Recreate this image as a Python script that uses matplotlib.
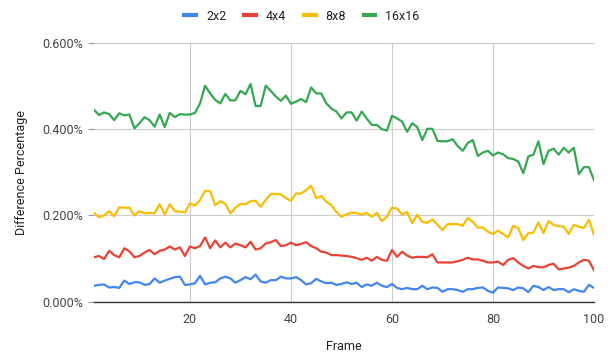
import numpy as np
import matplotlib
matplotlib.use("Agg")
import matplotlib.pyplot as plt
from matplotlib.ticker import PercentFormatter

plt.rcParams['font.family'] = ['Roboto', 'DejaVu Sans']

# frame numbers 1..100
frames = list(range(1, 101))

# difference percentage per block size (values in %)
diff_2x2 = [0.037, 0.039, 0.040, 0.033, 0.034, 0.032, 0.049, 0.041, 0.045, 0.045,
            0.039, 0.041, 0.054, 0.044, 0.049, 0.053, 0.057, 0.058, 0.039, 0.040,
            0.043, 0.060, 0.040, 0.044, 0.045, 0.054, 0.058, 0.054, 0.044, 0.050,
            0.057, 0.052, 0.063, 0.047, 0.044, 0.050, 0.050, 0.058, 0.054, 0.054,
            0.057, 0.050, 0.040, 0.043, 0.053, 0.047, 0.043, 0.044, 0.039, 0.041,
            0.045, 0.041, 0.044, 0.034, 0.040, 0.037, 0.044, 0.037, 0.034, 0.041,
            0.032, 0.029, 0.032, 0.029, 0.029, 0.037, 0.029, 0.033, 0.032, 0.023,
            0.029, 0.029, 0.027, 0.023, 0.029, 0.029, 0.032, 0.033, 0.025, 0.021,
            0.033, 0.032, 0.031, 0.027, 0.033, 0.031, 0.022, 0.037, 0.034, 0.027,
            0.034, 0.027, 0.029, 0.029, 0.022, 0.029, 0.025, 0.023, 0.039, 0.032]

diff_4x4 = [0.103, 0.106, 0.099, 0.118, 0.108, 0.103, 0.124, 0.117, 0.103, 0.106,
            0.114, 0.120, 0.110, 0.118, 0.121, 0.128, 0.121, 0.126, 0.106, 0.128,
            0.124, 0.129, 0.149, 0.124, 0.142, 0.126, 0.137, 0.126, 0.135, 0.131,
            0.126, 0.139, 0.121, 0.124, 0.135, 0.138, 0.143, 0.129, 0.131, 0.137,
            0.131, 0.134, 0.138, 0.129, 0.124, 0.116, 0.114, 0.108, 0.108, 0.107,
            0.106, 0.104, 0.101, 0.097, 0.102, 0.095, 0.104, 0.097, 0.095, 0.120,
            0.104, 0.116, 0.107, 0.102, 0.104, 0.104, 0.103, 0.110, 0.091, 0.091,
            0.091, 0.091, 0.094, 0.097, 0.102, 0.098, 0.098, 0.095, 0.091, 0.091,
            0.093, 0.085, 0.097, 0.101, 0.091, 0.083, 0.077, 0.083, 0.080, 0.080,
            0.085, 0.088, 0.075, 0.077, 0.079, 0.083, 0.091, 0.097, 0.095, 0.073]

diff_8x8 = [0.206, 0.196, 0.200, 0.210, 0.198, 0.219, 0.218, 0.218, 0.200, 0.210,
            0.205, 0.206, 0.205, 0.226, 0.202, 0.226, 0.210, 0.209, 0.207, 0.228,
            0.223, 0.236, 0.257, 0.256, 0.224, 0.233, 0.227, 0.205, 0.218, 0.227,
            0.226, 0.233, 0.234, 0.220, 0.236, 0.250, 0.250, 0.249, 0.240, 0.234,
            0.251, 0.251, 0.259, 0.269, 0.240, 0.245, 0.232, 0.224, 0.208, 0.197,
            0.203, 0.206, 0.206, 0.202, 0.206, 0.197, 0.206, 0.187, 0.197, 0.218,
            0.216, 0.202, 0.208, 0.182, 0.202, 0.185, 0.183, 0.191, 0.179, 0.166,
            0.180, 0.180, 0.180, 0.176, 0.194, 0.185, 0.172, 0.172, 0.162, 0.157,
            0.165, 0.157, 0.149, 0.176, 0.171, 0.143, 0.159, 0.160, 0.184, 0.159,
            0.187, 0.178, 0.175, 0.174, 0.157, 0.178, 0.174, 0.171, 0.190, 0.155]

diff_16x16 = [0.445, 0.433, 0.439, 0.435, 0.421, 0.437, 0.432, 0.434, 0.402, 0.414,
              0.428, 0.421, 0.406, 0.434, 0.405, 0.438, 0.428, 0.435, 0.434, 0.434,
              0.438, 0.460, 0.501, 0.483, 0.468, 0.460, 0.482, 0.467, 0.467, 0.489,
              0.481, 0.505, 0.454, 0.454, 0.501, 0.489, 0.476, 0.466, 0.478, 0.459,
              0.464, 0.470, 0.463, 0.497, 0.483, 0.483, 0.460, 0.448, 0.441, 0.425,
              0.439, 0.439, 0.420, 0.441, 0.425, 0.410, 0.410, 0.400, 0.397, 0.431,
              0.425, 0.418, 0.394, 0.414, 0.405, 0.375, 0.401, 0.401, 0.373, 0.372,
              0.372, 0.377, 0.361, 0.350, 0.368, 0.375, 0.338, 0.346, 0.350, 0.339,
              0.346, 0.342, 0.333, 0.331, 0.325, 0.298, 0.337, 0.341, 0.372, 0.319,
              0.350, 0.355, 0.341, 0.357, 0.346, 0.357, 0.296, 0.312, 0.312, 0.282]

series_names = ["2x2", "4x4", "8x8", "16x16"]
series_colors = ["#4285F4", "#EA4335", "#FBBC04", "#34A853"]

W, H = 613, 356
fig = plt.figure(figsize=(W / 100, H / 100), dpi=100)
ax = fig.add_axes([94 / W, 1 - 301.7 / H, 500 / W, (301.7 - 43) / H])

for vals, name, col in zip([diff_2x2, diff_4x4, diff_8x8, diff_16x16], series_names, series_colors):
    ax.plot(frames, vals, color=col, lw=1.6, label=name, solid_joinstyle="round")

ax.set_xlim(1, 100)
ax.set_ylim(0, 0.6)
ax.set_xticks([20, 40, 60, 80, 100])
ax.set_yticks([0, 0.2, 0.4, 0.6])
ax.yaxis.set_major_formatter(PercentFormatter(xmax=100, decimals=3))

ax.grid(True, color="#cccccc", lw=0.8)
ax.set_axisbelow(True)
for s in ["top", "right", "left"]:
    ax.spines[s].set_visible(False)
ax.spines["bottom"].set_color("#333333")
ax.spines["bottom"].set_linewidth(1.0)
ax.tick_params(axis="x", length=0, pad=8, labelsize=9, labelcolor="#444444")
ax.tick_params(axis="y", length=4, color="#999999", pad=4, labelsize=9, labelcolor="#444444")

ax.set_xlabel("Frame", fontsize=9, color="#222222", labelpad=10)
ax.set_ylabel("Difference Percentage", fontsize=9, color="#222222", labelpad=10)

fig.legend(loc="center", bbox_to_anchor=(302 / W, 1 - 16 / H), ncol=4, frameon=False,
           fontsize=9, handlelength=0.95, handletextpad=0.8, columnspacing=1.4,
           labelcolor="#222222")
for line in fig.legends[0].get_lines():
    line.set_linewidth(3)

fig.savefig("out.png", dpi=100)
